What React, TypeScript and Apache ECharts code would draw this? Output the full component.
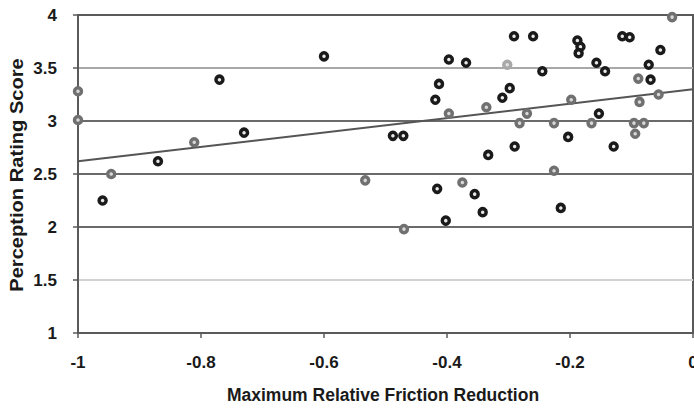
import React, { useEffect, useRef } from "react";
import * as echarts from "echarts";

const darkPoints: number[][] = [
  [-0.96, 2.25], [-0.87, 2.62], [-0.77, 3.39], [-0.73, 2.89], [-0.6, 3.61],
  [-0.488, 2.86], [-0.471, 2.86], [-0.419, 3.2], [-0.413, 3.35], [-0.416, 2.36],
  [-0.402, 2.06], [-0.397, 3.58], [-0.369, 3.55], [-0.355, 2.31], [-0.342, 2.14],
  [-0.333, 2.68], [-0.31, 3.22], [-0.298, 3.31], [-0.291, 3.8], [-0.29, 2.76],
  [-0.26, 3.8], [-0.245, 3.47], [-0.215, 2.18], [-0.203, 2.85], [-0.188, 3.76],
  [-0.183, 3.7], [-0.186, 3.64], [-0.157, 3.55], [-0.153, 3.07], [-0.143, 3.47],
  [-0.129, 2.76], [-0.115, 3.8], [-0.103, 3.79], [-0.072, 3.53], [-0.069, 3.39],
  [-0.053, 3.67],
];

const grayPoints: number[][] = [
  [-1.0, 3.28], [-1.0, 3.01], [-0.946, 2.5], [-0.811, 2.8], [-0.533, 2.44],
  [-0.47, 1.98], [-0.397, 3.07], [-0.375, 2.42], [-0.336, 3.13], [-0.282, 2.98],
  [-0.27, 3.07], [-0.226, 2.98], [-0.226, 2.53], [-0.198, 3.2], [-0.165, 2.98],
  [-0.096, 2.98], [-0.094, 2.88], [-0.087, 3.18], [-0.08, 2.98], [-0.089, 3.4],
  [-0.056, 3.25], [-0.034, 3.98],
];

const lightPoints: number[][] = [[-0.302, 3.53]];

const trendLine: number[][] = [[-1, 2.62], [0, 3.3]];

const xTitle = "Maximum Relative Friction Reduction";
const yTitle = "Perception Rating Score";

const FONT = "'Liberation Sans', Arial, sans-serif";

export default function App() {
  const ref = useRef<HTMLDivElement>(null);
  useEffect(() => {
    if (!ref.current) return;
    const chart = echarts.init(ref.current, undefined, { renderer: "svg" });
    const marker = (border: string, fill: string) => ({
      color: fill,
      borderColor: border,
      borderWidth: 3.5,
      opacity: 1,
    });
    chart.setOption({
      animation: false,
      backgroundColor: "#ffffff",
      grid: {
        left: 78,
        right: 1,
        top: 15,
        bottom: 76,
        outerBoundsMode: "none",
        containLabel: false,
        show: true,
        borderColor: "#5a5a5a",
        borderWidth: 2,
      },
      xAxis: {
        type: "value",
        min: -1,
        max: 0,
        interval: 0.2,
        axisLine: { show: true, onZero: false, lineStyle: { color: "#5a5a5a", width: 2 } },
        axisTick: { show: true, length: 5, lineStyle: { color: "#5a5a5a", width: 1.5 } },
        splitLine: { show: false },
        axisLabel: {
          margin: 21,
          fontFamily: FONT,
          fontWeight: "bold",
          fontSize: 17,
          color: "#1a1a1a",
          showMaxLabel: true,
          showMinLabel: true,
        },
      },
      yAxis: {
        type: "value",
        min: 1,
        max: 4,
        interval: 0.5,
        axisLine: { show: true, onZero: false, lineStyle: { color: "#5a5a5a", width: 2 } },
        axisTick: { show: true, length: 5, lineStyle: { color: "#5a5a5a", width: 1.5 } },
        splitLine: {
          show: true,
          lineStyle: {
            width: 2,
            color: ["#5a5a5a", "#d2d2d2", "#6a6a6a", "#6a6a6a", "#6a6a6a", "#a8a8a8", "#5a5a5a"],
          },
        },
        axisLabel: {
          margin: 21,
          fontFamily: FONT,
          fontWeight: "bold",
          fontSize: 17,
          color: "#1a1a1a",
        },
      },
      graphic: [
        {
          type: "text",
          x: 383,
          y: 395,
          style: {
            text: xTitle,
            fontFamily: FONT,
            fontWeight: "bold",
            fontSize: 17.5,
            fill: "#1a1a1a",
            textAlign: "center",
            textVerticalAlign: "middle",
          },
        },
        {
          type: "text",
          x: 17,
          y: 175,
          rotation: Math.PI / 2,
          scaleX: 1.15,
          style: {
            text: yTitle,
            fontFamily: FONT,
            fontWeight: "bold",
            fontSize: 17.5,
            fill: "#1a1a1a",
            textAlign: "center",
            textVerticalAlign: "middle",
          },
        },
      ],
      series: [
        {
          type: "line",
          data: trendLine,
          symbol: "none",
          lineStyle: { color: "#555555", width: 2 },
          z: 2,
        },
        {
          type: "scatter",
          data: grayPoints,
          symbol: "circle",
          symbolSize: 7,
          itemStyle: marker("#707070", "#d8d8d8"),
          z: 3,
        },
        {
          type: "scatter",
          data: lightPoints,
          symbol: "circle",
          symbolSize: 7,
          itemStyle: marker("#a8a8a8", "#e0e0e0"),
          z: 3,
        },
        {
          type: "scatter",
          data: darkPoints,
          symbol: "circle",
          symbolSize: 7,
          itemStyle: marker("#1a1a1a", "#e8e8e8"),
          z: 4,
        },
      ],
    });
    return () => chart.dispose();
  }, []);
  return (
    <div
      ref={ref}
      style={{ position: "absolute", left: 0, top: 0, width: 694, height: 409 }}
    />
  );
}
